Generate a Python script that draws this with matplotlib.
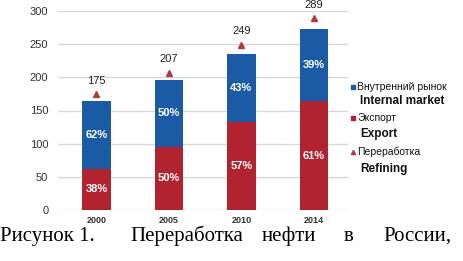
import matplotlib
matplotlib.use("Agg")
import matplotlib.pyplot as plt
from matplotlib.lines import Line2D
import numpy as np

years = ["2000", "2005", "2010", "2014"]
export = [62, 95, 133, 164]
internal = [102, 101, 102, 109]
refining = [175, 207, 249, 289]
export_pct = ["38%", "50%", "57%", "61%"]
internal_pct = ["62%", "50%", "43%", "39%"]
yticks = [0, 50, 100, 150, 200, 250, 300]

BLUE = "#1b5ba6"
RED = "#b0232f"
TRI = "#b23a3a"
SANS = ["Liberation Sans", "DejaVu Sans"]

W, H = 463, 261
fig = plt.figure(figsize=(W / 100, H / 100), dpi=100)
ax = fig.add_axes([58 / W, 1 - 210 / H, 290 / W, 199 / H])

x = np.arange(len(years))
ax.bar(x, export, width=0.39, color=RED, zorder=3)
ax.bar(x, internal, width=0.39, bottom=export, color=BLUE, zorder=3)
ax.plot(x, refining, linestyle="none", marker="^", color=TRI, markersize=5, zorder=4)

for i in range(len(years)):
    ax.text(x[i], export[i] / 2, export_pct[i], color="white", ha="center", va="center",
            fontsize=8, fontweight="bold", family=SANS, zorder=5)
    ax.text(x[i], export[i] + internal[i] / 2, internal_pct[i], color="white", ha="center",
            va="center", fontsize=8, fontweight="bold", family=SANS, zorder=5)
    ax.annotate(str(refining[i]), (x[i], refining[i]), xytext=(0, 6), textcoords="offset points",
                ha="center", va="bottom", fontsize=8, family=SANS, color="#222222")

ax.set_xlim(-0.53, 3.47)
ax.set_ylim(0, 300)
ax.set_yticks(yticks)
ax.set_xticks(x)
ax.set_xticklabels(years, fontsize=6.5, fontweight="bold", family=SANS, color="#333333")
ax.set_yticklabels([str(v) for v in yticks], fontsize=8, family=SANS, color="#333333")
ax.tick_params(length=0, pad=7)
ax.tick_params(axis="x", pad=4)
ax.grid(axis="y", color="#d8d8d8", linewidth=1.0, zorder=0)
for s in ax.spines.values():
    s.set_visible(False)

# legend
def fx(px):
    return px / W

def fy(py):
    return 1 - py / H

items = [
    ("s", BLUE, "Внутренний рынок", "Internal market", 87, 101),
    ("s", RED, "Экспорт", "Export", 118, 134),
    ("^", TRI, "Переработка", "Refining", 152, 169),
]
for mk, col, ru, en, yr, ye in items:
    fig.add_artist(Line2D([fx(353)], [fy(yr)], marker=mk, color=col, markersize=3,
                          linestyle="none", transform=fig.transFigure))
    fig.text(fx(357), fy(yr), ru, fontsize=7.5, family=SANS, va="center", ha="left",
             color="#111111")
    fig.text(fx(360), fy(ye), en, fontsize=8.5, fontweight="bold", family=SANS,
             va="center", ha="left", color="#111111")

# caption (justified words)
cap = [("Рисунок 1.", 0), ("Переработка", 130), ("нефти", 262), ("в", 344), ("России,", 383)]
for word, px in cap:
    fig.text(fx(px), fy(241), word, fontsize=15, family=["Liberation Serif", "DejaVu Serif"],
             va="baseline", ha="left", color="black")

fig.savefig("out.png", dpi=100)
